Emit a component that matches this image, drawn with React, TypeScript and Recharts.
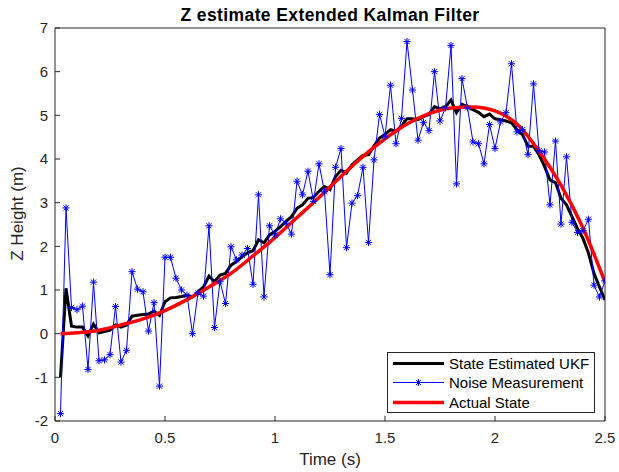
import { LineChart, Line, XAxis, YAxis, Label, Legend } from "recharts";

// sample times (s)
const timeSteps = [
  0.025, 0.05, 0.075, 0.1, 0.125, 0.15, 0.175, 0.2, 0.225, 0.25,
  0.275, 0.3, 0.325, 0.35, 0.375, 0.4, 0.425, 0.45, 0.475, 0.5,
  0.525, 0.55, 0.575, 0.6, 0.625, 0.65, 0.675, 0.7, 0.725, 0.75,
  0.775, 0.8, 0.825, 0.85, 0.875, 0.9, 0.925, 0.95, 0.975, 1.0,
  1.025, 1.05, 1.075, 1.1, 1.125, 1.15, 1.175, 1.2, 1.225, 1.25,
  1.275, 1.3, 1.325, 1.35, 1.375, 1.4, 1.425, 1.45, 1.475, 1.5,
  1.525, 1.55, 1.575, 1.6, 1.625, 1.65, 1.675, 1.7, 1.725, 1.75,
  1.775, 1.8, 1.825, 1.85, 1.875, 1.9, 1.925, 1.95, 1.975, 2.0,
  2.025, 2.05, 2.075, 2.1, 2.125, 2.15, 2.175, 2.2, 2.225, 2.25,
  2.275, 2.3, 2.325, 2.35, 2.375, 2.4, 2.425, 2.45, 2.475, 2.5,
];

const noiseMeasurement = [
  -1.83, 2.88, 0.6, 0.55, 0.63, -0.82, 1.18, -0.62, -0.6, -0.48,
  0.62, -0.65, -0.38, 1.42, 1.02, 0.96, 0.06, 0.71, -1.2, 1.75,
  1.75, 1.27, 1.0, 0.88, 0.0, 0.93, 0.86, 2.47, 0.14, 1.19,
  0.69, 1.99, 1.69, 1.8, 1.95, 1.13, 3.18, 0.84, 2.47, 2.26,
  2.63, 2.53, 2.28, 3.49, 3.18, 3.72, 3.03, 3.89, 3.25, 1.35,
  3.81, 4.24, 1.97, 2.99, 3.16, 3.81, 2.09, 3.98, 5.02, 4.52,
  5.69, 4.35, 4.93, 6.69, 5.58, 4.43, 4.84, 4.65, 6.0, 4.87,
  5.17, 6.6, 3.43, 5.84, 5.17, 4.39, 4.35, 3.89, 4.79, 4.24,
  4.85, 5.06, 6.18, 4.62, 4.67, 4.1, 5.72, 4.19, 4.16, 2.95,
  4.41, 2.51, 4.05, 2.55, 2.32, 2.36, 2.62, 1.11, 0.84, 1.21,
];

const stateEstimate = [
  -1.0, 1.04, 0.17, 0.15, 0.15, -0.05, 0.22, 0.02, 0.05, 0.08,
  0.2, 0.15, 0.2, 0.4, 0.42, 0.44, 0.45, 0.52, 0.42, 0.73,
  0.82, 0.83, 0.85, 0.88, 0.84, 0.96, 1.07, 1.32, 1.19, 1.34,
  1.38, 1.57, 1.65, 1.76, 1.85, 1.9, 2.15, 2.08, 2.26, 2.34,
  2.45, 2.57, 2.68, 2.87, 2.95, 3.1, 3.12, 3.26, 3.37, 3.3,
  3.6, 3.74, 3.68, 3.87, 3.98, 4.08, 4.1, 4.3, 4.48, 4.56,
  4.67, 4.63, 4.76, 4.92, 4.92, 4.9, 4.97, 5.02, 5.2, 5.15,
  5.2, 5.35, 5.06, 5.25, 5.2, 5.13, 5.07, 4.97, 5.03, 4.92,
  4.9, 4.87, 4.83, 4.67, 4.56, 4.29, 4.29, 4.1, 3.83, 3.52,
  3.46, 3.1, 2.95, 2.68, 2.41, 2.18, 1.84, 1.38, 1.07, 0.77,
];

// actual state, read at coarser steps (smooth curve)
const actualTimes = [
  0.025, 0.1, 0.2, 0.3, 0.4, 0.5, 0.6, 0.7, 0.8, 0.9, 1.0, 1.1, 1.2,
  1.3, 1.4, 1.5, 1.6, 1.7, 1.8, 1.9, 2.0, 2.1, 2.2, 2.3, 2.4, 2.5,
];
const actualState = [
  0.0, 0.02, 0.08, 0.2, 0.34, 0.53, 0.78, 1.07, 1.38, 1.78, 2.2, 2.66, 3.12,
  3.6, 4.06, 4.46, 4.8, 5.04, 5.17, 5.19, 5.1, 4.8, 4.18, 3.4, 2.42, 1.18,
];

const xTicks = [0, 0.5, 1, 1.5, 2, 2.5];
const yTicks = [-2, -1, 0, 1, 2, 3, 4, 5, 6, 7];
const legendOrder = ["estimate", "noise", "actual"];

const measured = timeSteps.map((t, i) => ({
  t,
  estimate: stateEstimate[i],
  noise: noiseMeasurement[i],
}));
const actual = actualTimes.map((t, i) => ({ t, actual: actualState[i] }));

const FONT = "'Liberation Sans', Arial, Helvetica, sans-serif";
const AXIS = "#262626";

const seriesStyle: Record<string, { stroke: string; width: number; marker: boolean }> = {
  estimate: { stroke: "#000000", width: 3, marker: false },
  noise: { stroke: "#0000ff", width: 1, marker: true },
  actual: { stroke: "#ff0000", width: 3.5, marker: false },
};

function asterisk(cx: number, cy: number, color: string, key?: string) {
  const r = 3.6;
  const d = r * 0.72;
  return (
    <g key={key} stroke={color} strokeWidth={1}>
      <line x1={cx - r} y1={cy} x2={cx + r} y2={cy} />
      <line x1={cx} y1={cy - r} x2={cx} y2={cy + r} />
      <line x1={cx - d} y1={cy - d} x2={cx + d} y2={cy + d} />
      <line x1={cx - d} y1={cy + d} x2={cx + d} y2={cy - d} />
    </g>
  );
}

const renderStar = (props: any) => {
  const { cx, cy, index } = props;
  if (cx == null || cy == null) return <g key={`star-${index}`} />;
  return asterisk(cx, cy, "#0000ff", `star-${index}`);
};

const renderLegend = (props: any) => {
  const payload = [...(props.payload || [])].sort(
    (a: any, b: any) => legendOrder.indexOf(a.dataKey) - legendOrder.indexOf(b.dataKey)
  );
  return (
    <div
      style={{
        boxSizing: "border-box",
        width: 208,
        height: 61,
        border: `1px solid ${AXIS}`,
        background: "#fff",
        padding: "1px 0 0 5px",
        fontFamily: FONT,
        fontSize: 15,
        color: "#000",
      }}
    >
      {payload.map((entry: any) => {
        const s = seriesStyle[entry.dataKey] || { stroke: entry.color, width: 2, marker: false };
        return (
          <div
            key={entry.dataKey}
            style={{ display: "flex", alignItems: "center", height: 19.3, lineHeight: "19.3px" }}
          >
            <svg width={51} height={19} style={{ display: "block" }}>
              <line x1={0} y1={9.5} x2={51} y2={9.5} stroke={s.stroke} strokeWidth={s.width} />
              {s.marker && asterisk(25.5, 9.5, s.stroke)}
            </svg>
            <span style={{ marginLeft: 5, whiteSpace: "nowrap" }}>{entry.value}</span>
          </div>
        );
      })}
    </div>
  );
};

const tickStyle = { fontSize: 15, fill: AXIS, fontFamily: FONT };

export default function App() {
  return (
    <div
      style={{
        position: "absolute",
        left: 0,
        top: 0,
        width: 619,
        height: 472,
        background: "#fff",
        fontFamily: FONT,
      }}
    >
      <div
        style={{
          position: "absolute",
          left: 55,
          top: 4.5,
          width: 550,
          textAlign: "center",
          fontSize: 17.5,
          lineHeight: "20px",
          fontWeight: "bold",
          letterSpacing: 0.4,
          color: "#000",
          zIndex: 1,
        }}
      >
        Z estimate Extended Kalman Filter
      </div>
      <LineChart
        width={619}
        height={472}
        data={measured}
        margin={{ top: 27, right: 13, bottom: 0, left: 0 }}
      >
        <XAxis
          dataKey="t"
          type="number"
          domain={[0, 2.5]}
          ticks={xTicks}
          height={51}
          tickSize={-5}
          tickMargin={16}
          tick={tickStyle}
          stroke={AXIS}
          allowDataOverflow
        >
          <Label
            value="Time (s)"
            position="insideBottom"
            offset={7}
            style={{ fontSize: 17, fill: AXIS, fontFamily: FONT }}
          />
        </XAxis>
        <XAxis
          xAxisId="top"
          orientation="top"
          dataKey="t"
          type="number"
          domain={[0, 2.5]}
          ticks={xTicks}
          height={1}
          tickSize={-5}
          tick={false}
          stroke={AXIS}
        />
        <YAxis
          type="number"
          domain={[-2, 7]}
          ticks={yTicks}
          width={55}
          tickSize={-5}
          tickMargin={12}
          tick={tickStyle}
          stroke={AXIS}
          allowDataOverflow
        >
          <Label
            content={(p: any) => {
              const vb = p.viewBox || { x: 0, y: 28, width: 55, height: 393 };
              const cx = vb.x + 17;
              const cy = vb.y + vb.height / 2 - 11;
              return (
                <text
                  x={cx}
                  y={cy}
                  transform={`rotate(-90, ${cx}, ${cy})`}
                  textAnchor="middle"
                  dominantBaseline="central"
                  style={{ fontSize: 17, fill: AXIS, fontFamily: FONT }}
                >
                  Z Height (m)
                </text>
              );
            }}
          />
        </YAxis>
        <YAxis
          yAxisId="right"
          orientation="right"
          type="number"
          domain={[-2, 7]}
          ticks={yTicks}
          width={1}
          tickSize={-5}
          tick={false}
          stroke={AXIS}
        />
        <Legend
          content={renderLegend}
          layout="vertical"
          align="center"
          verticalAlign="middle"
          wrapperStyle={{ left: 387, top: 352, width: 208, height: 61 }}
        />
        <Line
          name="State Estimated UKF"
          dataKey="estimate"
          type="linear"
          stroke="#000000"
          strokeWidth={3}
          dot={false}
          activeDot={false}
          isAnimationActive={false}
        />
        <Line
          name="Noise Measurement"
          dataKey="noise"
          type="linear"
          stroke="#0000ff"
          strokeWidth={1}
          dot={renderStar}
          activeDot={false}
          isAnimationActive={false}
        />
        <Line
          name="Actual State"
          data={actual}
          dataKey="actual"
          type="monotone"
          stroke="#ff0000"
          strokeWidth={3.5}
          dot={false}
          activeDot={false}
          isAnimationActive={false}
        />
      </LineChart>
    </div>
  );
}
